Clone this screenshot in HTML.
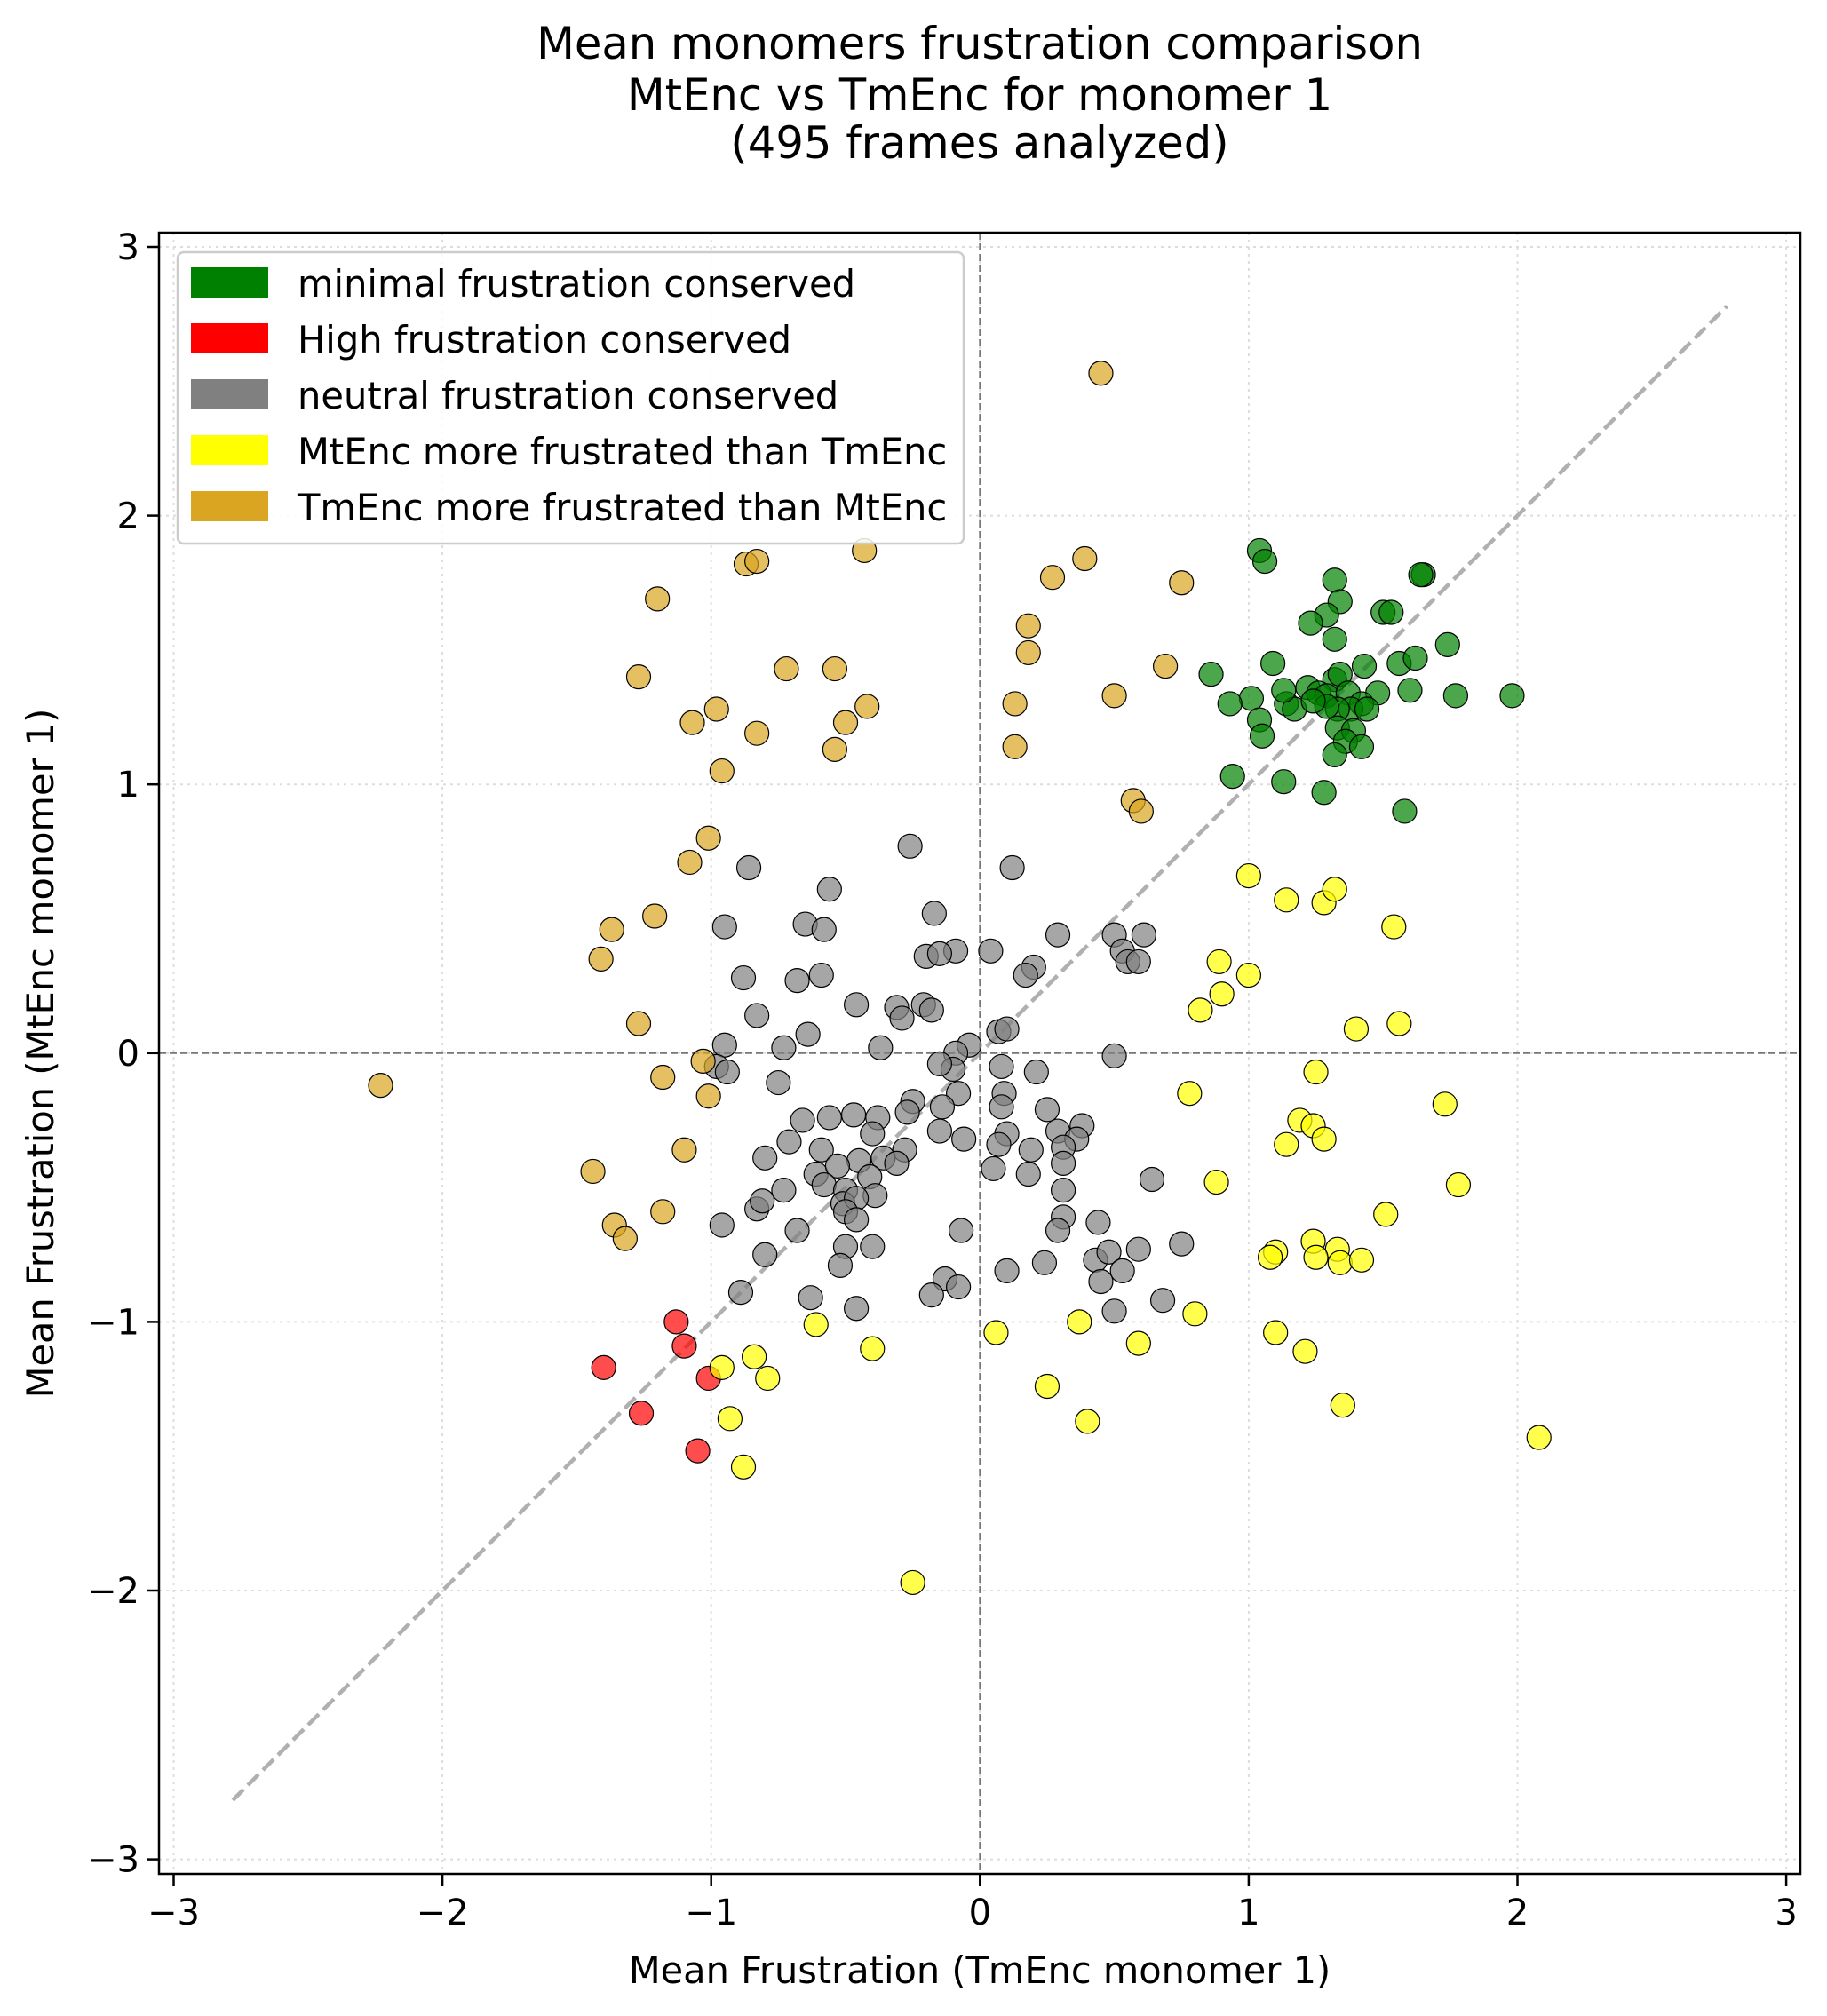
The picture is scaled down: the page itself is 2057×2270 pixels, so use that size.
<!DOCTYPE html>
<html><head><meta charset="utf-8"><style>
body{margin:0;background:#fff;}
svg{display:block;font-family:"DejaVu Sans","Liberation Sans",sans-serif;}
</style></head><body>
<svg id="chart" width="2057" height="2270" viewBox="0 0 2057 2270" xmlns="http://www.w3.org/2000/svg">
<rect width="2057" height="2270" fill="#fff"/>
<g id="title" font-size="49.6" text-anchor="middle" fill="#000">
<text x="1103" y="66">Mean monomers frustration comparison</text>
<text x="1103" y="124">MtEnc vs TmEnc for monomer 1</text>
<text x="1103" y="178">(495 frames analyzed)</text>
</g>
<g id="grid"></g>
<g id="refs"></g>
<g id="points"></g>
<rect x="179" y="262" width="1848" height="1848" fill="none" stroke="#000" stroke-width="2.5"/>
<g id="ticks" font-size="40" fill="#000"></g>
<text x="1103" y="2233" font-size="41.5" text-anchor="middle">Mean Frustration (TmEnc monomer 1)</text>
<text transform="translate(60,1186) rotate(-90)" font-size="41.5" text-anchor="middle">Mean Frustration (MtEnc monomer 1)</text>
<g id="legend"></g>
</svg>
<script>
const tanX=[-2.23,0.45,-0.87,-0.83,-0.43,-1.20,-1.27,-1.07,-0.98,-0.96,-0.83,-0.72,-0.54,-0.50,-0.42,-0.54,-1.01,-1.08,-1.37,-1.41,-1.21,-1.27,-1.18,-1.03,-1.01,-1.10,-1.44,-1.36,-1.32,-1.18,0.39,0.27,0.18,0.18,0.13,0.13,0.50,0.75,0.69,0.57,0.60];
const tanY=[-0.12,2.53,1.82,1.83,1.87,1.69,1.40,1.23,1.28,1.05,1.19,1.43,1.43,1.23,1.29,1.13,0.80,0.71,0.46,0.35,0.51,0.11,-0.09,-0.03,-0.16,-0.36,-0.44,-0.64,-0.69,-0.59,1.84,1.77,1.59,1.49,1.30,1.14,1.33,1.75,1.44,0.94,0.90];
const greenX=[1.04,1.06,1.32,1.65,1.64,1.50,1.53,1.34,1.29,1.23,1.32,1.74,1.43,1.09,1.56,1.62,0.86,1.32,1.34,1.22,1.26,1.29,1.37,1.48,1.42,1.38,1.33,1.29,1.14,1.17,1.24,1.33,1.39,1.36,1.42,1.32,1.44,1.60,1.77,1.98,1.01,0.93,1.04,1.05,1.13,0.94,1.13,1.28,1.58];
const greenY=[1.87,1.83,1.76,1.78,1.78,1.64,1.64,1.68,1.63,1.60,1.54,1.52,1.44,1.45,1.45,1.47,1.41,1.39,1.41,1.36,1.34,1.33,1.34,1.34,1.30,1.28,1.28,1.29,1.30,1.28,1.31,1.21,1.20,1.16,1.14,1.11,1.28,1.35,1.33,1.33,1.32,1.30,1.24,1.18,1.35,1.03,1.01,0.97,0.90];
const redX=[-1.13,-1.10,-1.40,-1.01,-1.26,-1.05];
const redY=[-1.00,-1.09,-1.17,-1.21,-1.34,-1.48];
const yellowX=[1.00,1.14,1.28,1.32,1.54,0.89,1.00,0.90,0.82,1.40,1.56,1.25,0.78,1.73,1.19,1.24,1.14,1.28,0.88,1.78,1.51,1.24,1.33,1.10,1.08,1.25,1.34,1.42,0.80,0.37,1.10,0.06,-0.61,0.59,1.21,-0.40,-0.84,-0.96,-0.79,0.25,1.35,-0.93,0.40,-0.88,2.08,-0.25];
const yellowY=[0.66,0.57,0.56,0.61,0.47,0.34,0.29,0.22,0.16,0.09,0.11,-0.07,-0.15,-0.19,-0.25,-0.27,-0.34,-0.32,-0.48,-0.49,-0.60,-0.70,-0.73,-0.74,-0.76,-0.76,-0.78,-0.77,-0.97,-1.00,-1.04,-1.04,-1.01,-1.08,-1.11,-1.10,-1.13,-1.17,-1.21,-1.24,-1.31,-1.36,-1.37,-1.54,-1.43,-1.97];
const grayX=[-0.26,-0.86,0.12,-0.56,-0.65,-0.58,-0.95,-0.17,0.29,0.50,0.61,-0.09,0.04,-0.20,-0.15,0.53,0.55,0.59,0.20,0.17,-0.88,-0.59,-0.68,-0.46,-0.31,-0.21,-0.18,-0.29,-0.83,-0.64,-0.37,-0.73,-0.95,-0.98,-0.94,0.07,0.10,-0.04,-0.09,-0.10,-0.15,0.08,0.21,0.50,-0.75,-0.08,0.09,0.08,-0.25,-0.27,-0.14,0.25,-0.66,-0.56,-0.47,-0.38,0.38,-0.15,0.10,-0.40,0.29,-0.71,-0.06,0.07,0.19,0.36,0.31,-0.59,-0.28,-0.80,-0.45,-0.36,-0.31,-0.61,0.05,0.18,0.31,0.64,-0.53,-0.58,-0.41,-0.73,-0.50,0.31,-0.39,-0.83,-0.81,-0.51,-0.46,-0.50,-0.46,0.31,0.44,-0.96,-0.68,-0.07,0.29,-0.50,-0.40,0.59,0.75,-0.80,0.43,0.48,0.53,-0.52,0.24,0.10,0.45,-0.13,-0.08,-0.89,-0.18,-0.63,0.68,0.50,-0.46];
const grayY=[0.77,0.69,0.69,0.61,0.48,0.46,0.47,0.52,0.44,0.44,0.44,0.38,0.38,0.36,0.37,0.38,0.34,0.34,0.32,0.29,0.28,0.29,0.27,0.18,0.17,0.18,0.16,0.13,0.14,0.07,0.02,0.02,0.03,-0.05,-0.07,0.08,0.09,0.03,0.00,-0.06,-0.04,-0.05,-0.07,-0.01,-0.11,-0.15,-0.15,-0.20,-0.18,-0.22,-0.20,-0.21,-0.25,-0.24,-0.23,-0.24,-0.27,-0.29,-0.30,-0.30,-0.29,-0.33,-0.32,-0.34,-0.36,-0.32,-0.35,-0.36,-0.36,-0.39,-0.40,-0.39,-0.41,-0.45,-0.43,-0.45,-0.41,-0.47,-0.42,-0.49,-0.46,-0.51,-0.51,-0.51,-0.53,-0.58,-0.55,-0.56,-0.54,-0.59,-0.62,-0.61,-0.63,-0.64,-0.66,-0.66,-0.66,-0.72,-0.72,-0.73,-0.71,-0.75,-0.77,-0.74,-0.81,-0.79,-0.78,-0.81,-0.85,-0.84,-0.87,-0.89,-0.90,-0.91,-0.92,-0.96,-0.95];
const tickVals=[-3,-2,-1,0,1,2,3];
const tickLabels=["\u22123","\u22122","\u22121","0","1","2","3"];
const legendLabels=["minimal frustration conserved","High frustration conserved","neutral frustration conserved","MtEnc more frustrated than TmEnc","TmEnc more frustrated than MtEnc"];
const legendColors=["#008000","#ff0000","#808080","#ffff00","#daa520"];

const NS="http://www.w3.org/2000/svg";
const X0=1103.3,Y0=1185.8,U=302.6;
const L=179,R=2027,T=262,B=2110;
function sx(v){return X0+v*U;}
function sy(v){return Y0-v*U;}
function mk(tag,attrs,parent){const e=document.createElementNS(NS,tag);for(const k in attrs)e.setAttribute(k,attrs[k]);parent.appendChild(e);return e;}

const grid=document.getElementById('grid');
tickVals.forEach(v=>{
  const gv=mk('line',{x1:sx(v),x2:sx(v),y1:T,y2:B,stroke:'#ddd','stroke-width':2,'stroke-dasharray':'3,5'},grid);
  
  
  const gh=mk('line',{x1:L,x2:R,y1:sy(v),y2:sy(v),stroke:'#ddd','stroke-width':2,'stroke-dasharray':'3,5'},grid);
  
  
});
const refs=document.getElementById('refs');
const d=mk('line',{x1:sx(-2.78),y1:sy(-2.78),x2:sx(2.78),y2:sy(2.78),stroke:'#b0b0b0','stroke-width':4.5,'stroke-dasharray':'17,7'},refs);


const zx=mk('line',{x1:sx(0),x2:sx(0),y1:T,y2:B,stroke:'#777','stroke-width':2,'stroke-dasharray':'8,4'},refs);


const zy=mk('line',{x1:L,x2:R,y1:sy(0),y2:sy(0),stroke:'#777','stroke-width':2,'stroke-dasharray':'8,4'},refs);



const pts=document.getElementById('points');
function series(xs,ys,color,name){
  xs.forEach((x,i)=>{
    const c=mk('circle',{cx:sx(x),cy:sy(ys[i]),r:13.5,fill:color,'fill-opacity':0.7,stroke:'#000','stroke-width':1.2},pts);
    
    
  });
}
series(greenX,greenY,'#008000','point-minimal');
series(redX,redY,'#ff0000','point-high');
series(grayX,grayY,'#808080','point-neutral');
series(yellowX,yellowY,'#ffff00','point-mtenc-more');
series(tanX,tanY,'#daa520','point-tmenc-more');

const ticks=document.getElementById('ticks');
tickVals.forEach((v,i)=>{
  mk('line',{x1:sx(v),x2:sx(v),y1:B,y2:B+14,stroke:'#000','stroke-width':2.5},ticks);
  const tx=mk('text',{x:sx(v),y:B+57,'text-anchor':'middle'},ticks);
  tx.textContent=tickLabels[i];
  
  
  mk('line',{x1:L-14,x2:L,y1:sy(v),y2:sy(v),stroke:'#000','stroke-width':2.5},ticks);
  const ty=mk('text',{x:L-22,y:sy(v)+14,'text-anchor':'end'},ticks);
  ty.textContent=tickLabels[i];
  
  
});

const leg=document.getElementById('legend');
mk('rect',{x:200,y:284,width:885,height:328,rx:7,fill:'#fff','fill-opacity':0.85,stroke:'#ccc','stroke-width':2.5},leg);
legendLabels.forEach((lab,i)=>{
  const yy=301+i*63;
  const p=mk('rect',{x:215,y:yy,width:87,height:34,fill:legendColors[i]},leg);
  
  
  const t=mk('text',{x:335,y:yy+33,'font-size':41.6,fill:'#000'},leg);
  t.textContent=lab;
  
  
});
</script>
</body></html>
